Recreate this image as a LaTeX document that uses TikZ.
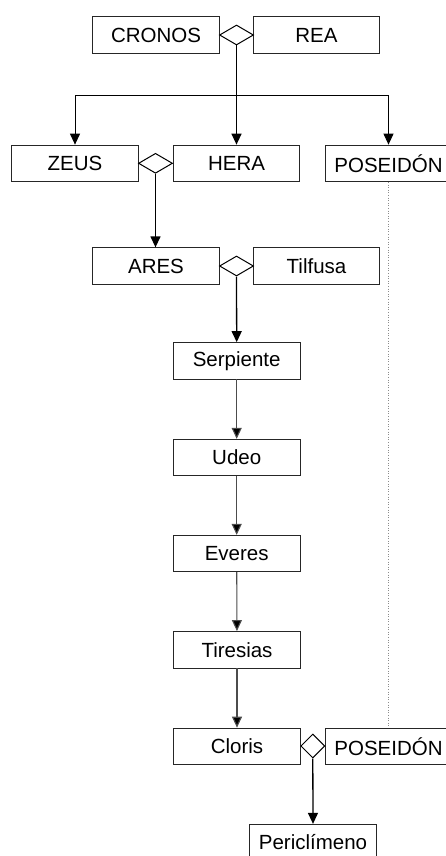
\documentclass[tikz,border=0pt]{standalone}
\usepackage{fontspec}
\setmainfont{Liberation Sans}
\usetikzlibrary{shapes.geometric,arrows.meta}

\tikzset{
  person/.style={draw=black!85, line width=0.8pt, fill=white, rectangle,
    minimum width=126.5pt, minimum height=36.5pt, inner sep=0pt,
    font=\fontsize{20.5}{24}\selectfont},
  union/.style={draw=black, line width=1pt, fill=white, diamond, inner sep=0pt},
  bond/.style={draw=black, line width=1.3pt, -{Triangle[length=11pt,width=10pt]}},
  descent/.style={draw=black!70, line width=1.1pt, -{Triangle[length=11pt,width=10pt,fill=black]}},
  branch/.style={draw=black, line width=1pt, -{Triangle[length=11pt,width=10pt]}},
  kinship/.style={draw=black!45, line width=0.6pt, dotted}
}

\begin{document}
\begin{tikzpicture}[x=1pt, y=-1pt]
  \useasboundingbox (0,0) rectangle (446,856);

  % first generation
  \node[person] (cronos) at (156,35) {CRONOS};
  \node[person] (rea) at (316.5,35) {REA};
  \node[union, minimum width=34pt, minimum height=20pt] (u1) at (236.5,35) {};

  % children of Cronos and Rea
  \node[person] (zeus) at (75,163.3) {ZEUS};
  \node[person] (hera) at (236.5,163.3) {HERA};
  \node[person] (poseidon) at (388.5,163.3) {POSEIDÓN};
  \node[union, minimum width=34pt, minimum height=20pt] (u2) at (155.5,163.3) {};

  % Ares and Tilfusa
  \node[person] (ares) at (156,266) {ARES};
  \node[person] (tilfusa) at (316.5,266) {Tilfusa};
  \node[union, minimum width=34pt, minimum height=20pt] (u3) at (236.5,266) {};

  % line of descent
  \node[person] (serpiente) at (236.7,360.8) {Serpiente};
  \node[person] (udeo) at (236.7,457.5) {Udeo};
  \node[person] (everes) at (236.7,553.5) {Everes};
  \node[person] (tiresias) at (237,649.7) {Tiresias};
  \node[person] (cloris) at (237,746.3) {Cloris};
  \node[person] (poseidonb) at (388.5,746.3) {POSEIDÓN};
  \node[union, minimum width=24pt, minimum height=24pt] (u4) at (312.8,746) {};
  \node[person] (periclimeno) at (313,842.5) {Periclímeno};

  % branching below the first union
  \coordinate (split) at (236.5,96);
  \draw[bond] (u1.south) -- (hera.north);
  \draw[branch] (split) -| (zeus.north);
  \draw[branch] (split) -| (poseidon.north);

  % unions and their offspring
  \draw[bond] (u2.south) -- (u2.south |- ares.north);
  \draw[bond] (u3.south) -- (serpiente.north);
  \draw[descent] (serpiente) -- (udeo);
  \draw[descent] (udeo) -- (everes);
  \draw[descent] (everes) -- (tiresias);
  \draw[descent] (tiresias) -- (cloris);
  \draw[bond] (u4.south) -- (periclimeno.north);

  % same person shown twice
  \draw[kinship] (poseidon.south) -- (poseidonb.north);
\end{tikzpicture}
\end{document}
